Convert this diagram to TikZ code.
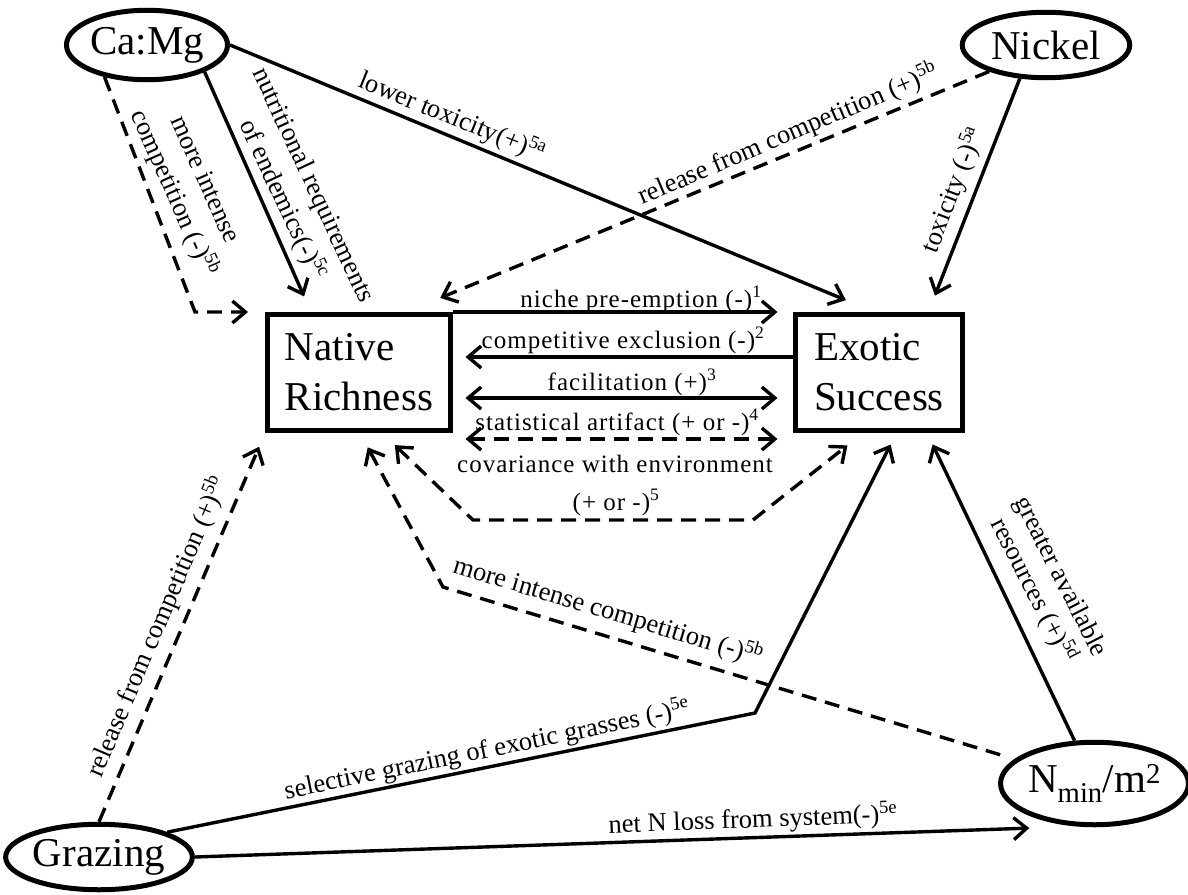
\documentclass[tikz,border=0pt]{standalone}
\usepackage{fontspec}
\setmainfont{Liberation Serif}
\usetikzlibrary{arrows.meta,shapes.geometric}
\begin{document}
\begin{tikzpicture}[x=1pt,y=-1pt,
  >={Straight Barb[length=13pt,width=22pt]},
  conn/.style={line width=3.4pt},
  dsh/.style={line width=3.4pt,dash pattern=on 15pt off 9pt},
  ell/.style={ellipse,draw,line width=5pt,inner sep=0pt,font=\fontsize{41}{50}\selectfont},
  box/.style={rectangle,draw,line width=5pt,inner sep=0pt,align=left,minimum height=116pt,font=\fontsize{41}{50}\selectfont},
  lab/.style={inner sep=0pt,font=\fontsize{25}{29}\selectfont\addfontfeature{LetterSpace=4}},
  rlab/.style={inner sep=0pt,align=center,font=\fontsize{26.5}{34}\selectfont},
  rlab3/.style={inner sep=0pt,align=center,font=\fontsize{26.5}{31}\selectfont}
]
\path[use as bounding box] (0,0) rectangle (1188,894);

% nodes
\node[ell,minimum width=154.5pt,minimum height=69.5pt] (camg) at (147,45) {Ca:Mg};
\node[ell,minimum width=167.5pt,minimum height=65.5pt] (nickel) at (1046,45) {Nickel};
\node[ell,minimum width=167.5pt,minimum height=65.5pt] (grazing) at (99,857) {Grazing};
\node[ell,minimum width=180.5pt,minimum height=82.5pt] (nmin) at (1094.5,783.5) {N\textsubscript{min}/m\textsuperscript{2}};
\node[box,minimum width=183pt] (native) at (359,372.5) {Native\\Richness};
\node[box,minimum width=167pt] (exotic) at (879,372.5) {Exotic\\Success};

% coordinates for bends
\coordinate (c1) at (195,312);
\coordinate (cv1) at (473,520);
\coordinate (cv2) at (753,520);
\coordinate (g1) at (755,713);
\coordinate (n1) at (443,587);

% connectors
\draw[dsh,->,shorten >=17pt] (camg.217) -- (c1) -- (native.north west);
\draw[conn,->,shorten >=17pt] (camg.-25) -- ([xshift=46pt]native.north west);
\draw[conn,->,shorten >=31pt] (camg.east) -- ([xshift=81.5pt]exotic.north west);
\draw[dsh,->,shorten >=37pt] (nickel.205) -- ([xshift=-47pt]native.north east);
\draw[conn,->,shorten >=17.6pt] (nickel.232) -- ([xshift=135.5pt]exotic.north west);

\draw[conn,->,shorten >=15.5pt] (native.north east) -- (exotic.north west);
\draw[conn,->,shorten >=12.5pt] ([yshift=15.5pt]exotic.west) -- ([yshift=15.5pt]native.east);
\draw[conn,<->,shorten <=12.5pt,shorten >=15.5pt] ([yshift=-25.5pt]native.east) -- ([yshift=-25.5pt]exotic.west);
\draw[dsh,<->,shorten <=12.5pt,shorten >=15.5pt] ([yshift=-66.5pt]native.east) -- ([yshift=-66.5pt]exotic.west);
\draw[dsh,<->,shorten <=17.5pt,shorten >=20pt] ([xshift=117.2pt]native.south west) -- (cv1) -- (cv2) -- ([xshift=70.2pt]exotic.south west);

\draw[dsh,->,shorten >=15pt] (grazing.north) -- (native.south west);
\draw[conn,->,shorten >=12.9pt] (grazing.20) -- (g1) -- ([xshift=103.4pt]exotic.south west);
\draw[conn,->,shorten >=47pt] (grazing.east) -- (nmin.247);
\draw[conn,->,shorten >=12.7pt] (nmin.115) -- ([xshift=134.1pt]exotic.south west);
\draw[dsh,->,shorten <=15pt,shorten >=16.3pt] (nmin.163) -- (n1) -- ([xshift=95pt]native.south west);

% labels
\node[rlab,rotate=-66] (l1) at (188,187) {more intense\\competition (-)\textsuperscript{5b}};
\node[rlab,rotate=-65] (l2) at (297,193) {nutritional requirements\\of endemics(-)\textsuperscript{5c}};
\node[rlab,rotate=-22] (l3) at (452,117) {lower toxicity(+)\textsuperscript{5a}};
\node[rlab,rotate=23] (l4) at (788,134) {release from competition (+)\textsuperscript{5b}};
\node[rlab,rotate=69] (l5) at (953,190) {toxicity (-)\textsuperscript{5a}};
\node[lab,anchor=base] (l6) at (641,307) {niche pre-emption (-)\textsuperscript{1}};
\node[lab,anchor=base] (l7) at (623,348) {competitive exclusion (-)\textsuperscript{2}};
\node[lab,anchor=base] (l8) at (632,390) {facilitation (+)\textsuperscript{3}};
\node[lab,anchor=base] (l9) at (617,430) {statistical artifact (+ or -)\textsuperscript{4}};
\node[lab,anchor=base] (l10) at (615,472) {covariance with environment};
\node[lab,anchor=base] (l11) at (616,510) {(+ or -)\textsuperscript{5}};
\node[rlab,rotate=67] (l12) at (157,627) {release from competition (+)\textsuperscript{5b}};
\node[rlab,rotate=11.6] (l13) at (487,750) {selective grazing of exotic grasses (-)\textsuperscript{5e}};
\node[rlab,rotate=2.2] (l14) at (753,820) {net N loss from system(-)\textsuperscript{5e}};
\node[rlab3,rotate=-63] (l15) at (1046,584) {greater available\\resources (+)\textsuperscript{5d}};
\node[rlab,rotate=-16.8] (l16) at (608,611) {more intense competition (-)\textsuperscript{5b}};
\end{tikzpicture}
\end{document}
